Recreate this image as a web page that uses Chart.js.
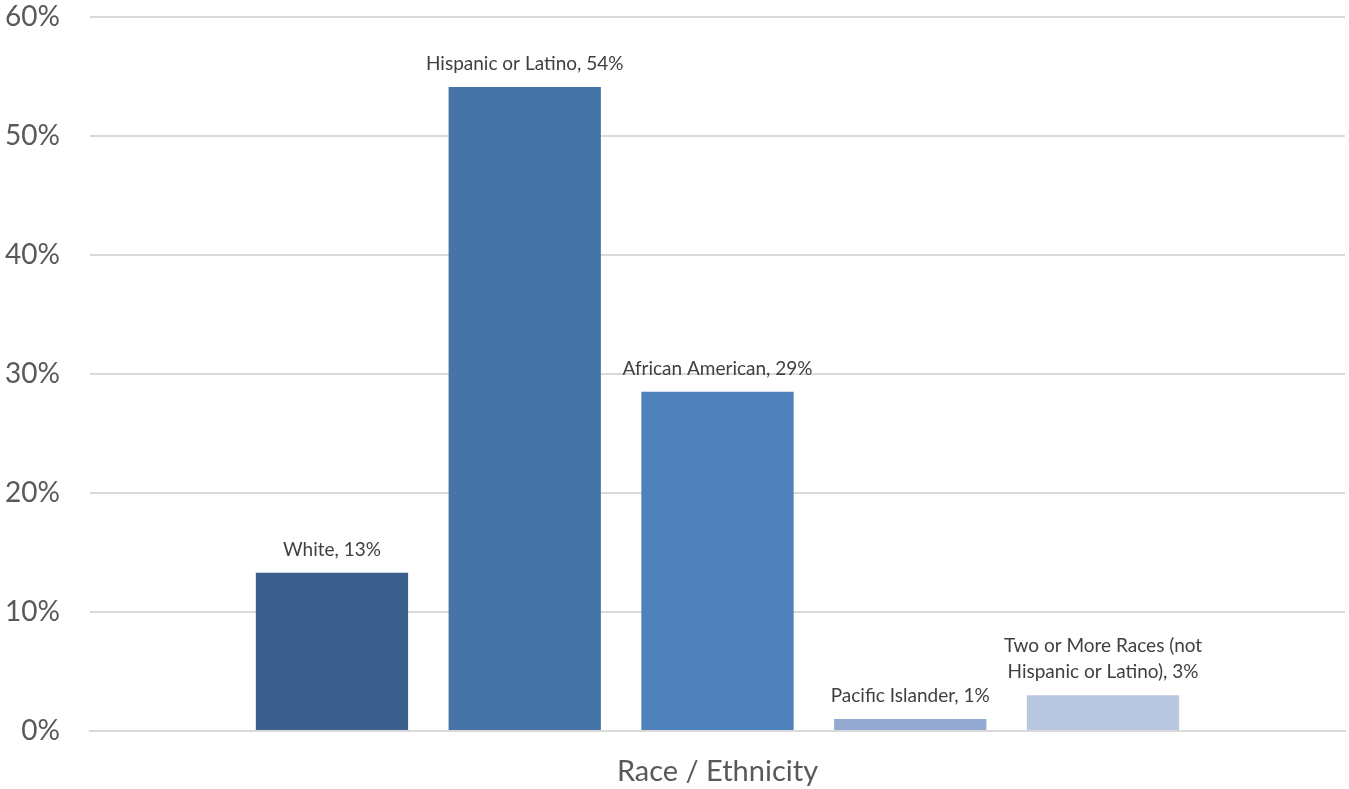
<!DOCTYPE html>
<html>
<head>
<meta charset="utf-8">
<script src="https://cdn.jsdelivr.net/npm/chart.js@4/dist/chart.umd.min.js"></script>
<style>
  html, body { margin: 0; padding: 0; background: #fff; }
  #wrap { width: 1349px; height: 789px; }
</style>
</head>
<body>
<div id="wrap"><canvas id="bars"></canvas></div>
<script>
// one category, one series per group
let category = ["Race / Ethnicity"];
let groups = ["White", "Hispanic or Latino", "African American", "Pacific Islander",
              "Two or More Races (not Hispanic or Latino)"];
let shares = [13.3, 54.1, 28.5, 1.0, 3.0];
let labelLines = [["White, 13%"], ["Hispanic or Latino, 54%"], ["African American, 29%"],
                  ["Pacific Islander, 1%"], ["Two or More Races (not", "Hispanic or Latino), 3%"]];
let yTicks = [0, 10, 20, 30, 40, 50, 60];

let colorList = ["#3b5f8c", "#4674a8", "#4f81bd", "#93a9d2", "#b9c7e0"];

const font = "Lato, 'Open Sans', sans-serif";

// draws "name, x%" above each bar
const barLabels = {
  id: 'barLabels',
  afterDatasetsDraw(chart) {
    const ctx = chart.ctx;
    ctx.save();
    ctx.fillStyle = '#404040';
    ctx.font = "19px " + font;
    ctx.textAlign = 'center';
    ctx.textBaseline = 'alphabetic';
    chart.data.datasets.forEach((ds, i) => {
      let bar = chart.getDatasetMeta(i).data[0];
      let lines = labelLines[i];
      let base = bar.y - 17;
      for (let k = lines.length - 1; k >= 0; k--) {
        ctx.fillText(lines[k], bar.x, base - (lines.length - 1 - k) * 26);
      }
    });
    ctx.restore();
  }
};

let datasets = groups.map((g, i) => ({
  label: g,
  data: [shares[i]],
  backgroundColor: colorList[i],
  categoryPercentage: 0.768,
  barPercentage: 0.79
}));

new Chart(document.getElementById("bars"), {
  type: 'bar',
  data: { labels: category, datasets: datasets },
  plugins: [barLabels],
  options: {
    responsive: true,
    maintainAspectRatio: false,
    animation: false,
    layout: { padding: { top: 0, right: 4, bottom: 0, left: 0 } },
    plugins: {
      legend: { display: false },
      tooltip: { enabled: false }
    },
    scales: {
      x: {
        afterFit: (scale) => { scale.height = 58; },
        grid: { display: false, drawTicks: false },
        border: { display: true, color: '#d9d9d9', width: 2 },
        ticks: {
          color: '#595959',
          font: { size: 29, family: font },
          padding: 23
        }
      },
      y: {
        min: 0,
        max: 60,
        afterBuildTicks: (scale) => { scale.ticks = yTicks.map(v => ({ value: v })); },
        afterFit: (scale) => { scale.width = 90; },
        // invisible tick marks give the gap between labels and grid
        grid: { color: '#d9d9d9', lineWidth: 2, drawTicks: true, tickLength: 30, tickColor: 'rgba(0,0,0,0)' },
        border: { display: false },
        ticks: {
          color: '#595959',
          font: { size: 28, family: font },
          padding: 0,
          callback: v => v + '%'
        }
      }
    }
  }
});
</script>
</body>
</html>
